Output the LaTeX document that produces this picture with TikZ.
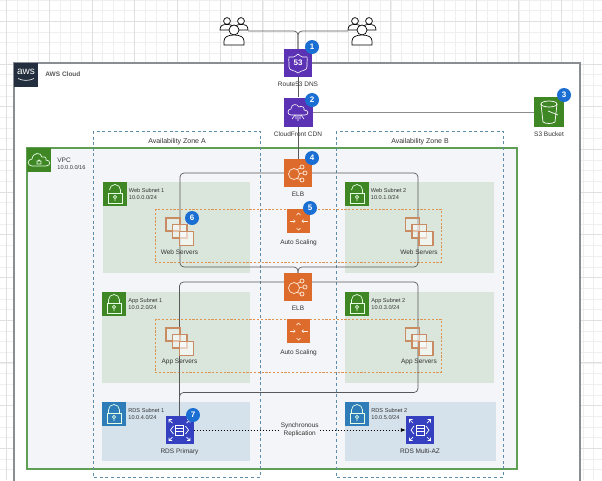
\documentclass[tikz,border=0pt]{standalone}
\usepackage{fontspec}
\setmainfont{Liberation Sans}
\usetikzlibrary{arrows.meta, positioning}

\definecolor{gridminor}{HTML}{EFEFEF}
\definecolor{gridmajor}{HTML}{E0E0E0}
\definecolor{cloudline}{HTML}{8A8D91}
\definecolor{awsnavy}{HTML}{232F3E}
\definecolor{vpcgreen}{HTML}{5E9E55}
\definecolor{vpcfill}{HTML}{F4F5F8}
\definecolor{awsgreen}{HTML}{3F8624}
\definecolor{subnetgreen}{HTML}{DAE6DB}
\definecolor{subnetblue}{HTML}{D5E2EC}
\definecolor{lockblue}{HTML}{2E7DB8}
\definecolor{zoneline}{HTML}{5F8CA8}
\definecolor{scaleline}{HTML}{E0934F}
\definecolor{awspurple}{HTML}{5B32B4}
\definecolor{awsorange}{HTML}{DD6B2C}
\definecolor{rdsblue}{HTML}{3440C0}
\definecolor{badgeblue}{HTML}{1B6FD2}
\definecolor{serverline}{HTML}{C98B62}
\definecolor{textgrey}{HTML}{333333}

\tikzset{
  iconbox/.style={fill=#1, minimum size=28pt, inner sep=0pt},
  smallbox/.style={fill=#1, minimum size=24pt, inner sep=0pt},
  caption/.style={font=\fontsize{6.5}{7.5}\selectfont, text=textgrey, inner sep=0pt, align=center},
  subtext/.style={font=\fontsize{5.6}{7}\selectfont, text=textgrey, inner sep=0pt, align=left},
  badge/.style={circle, fill=badgeblue, text=white, minimum size=14pt, inner sep=0pt, font=\fontsize{8}{8}\bfseries\selectfont},
  conn/.style={draw=#1, line width=0.7pt, rounded corners=4pt},
  conn/.default={black!65},
  zonebox/.style={draw=zoneline, line width=1pt, dash pattern=on 3pt off 2.6pt},
  scalebox/.style={draw=scaleline, line width=1pt, dash pattern=on 2.2pt off 1.6pt},
  pics/usersicon/.style={code={
    \foreach \s in {-1,1} {
      \draw[black, line width=0.7pt, fill=white] (\s*7,-10) circle (3.4);
      \draw[black, line width=0.7pt, fill=white] (\s*14,-1) .. controls (\s*14,-6) and (\s*11,-6.5) .. (\s*7,-6.5) .. controls (\s*3,-6.5) and (\s*1,-6) .. (\s*1,-1) -- cycle;
    }
    \draw[black, line width=0.7pt, fill=white] (0,-1) circle (5);
    \draw[black, line width=0.7pt, fill=white] (-10,14) -- (-10,10) .. controls (-10,6) and (-6,4) .. (0,4) .. controls (6,4) and (10,6) .. (10,10) -- (10,14) -- cycle;
  }},
  pics/shieldicon/.style={code={
    \draw[white, line width=0.6pt] (-9,-6) .. controls (-6,-5) and (-3,-6) .. (0,-9) .. controls (3,-6) and (6,-5) .. (9,-6) .. controls (10,-2) and (8,1) .. (9,4) .. controls (9,8) and (3,7) .. (0,10) .. controls (-3,7) and (-9,8) .. (-9,4) .. controls (-8,1) and (-10,-2) .. (-9,-6) -- cycle;
    \node[text=white, font=\fontsize{8}{8}\bfseries\selectfont, inner sep=0pt] (shieldText) at (0,-0.5) {53};
  }},
  pics/cloudicon/.style={code={
    \draw[white, line width=0.6pt] (-7,3) .. controls (-11,3) and (-11,-3) .. (-7,-3) .. controls (-7,-8) and (-1,-9) .. (1,-5) .. controls (4,-7) and (7,-4) .. (6,-2) .. controls (11,-2) and (11,3) .. (7,3) -- cycle;
    \draw[white, line width=0.6pt] (0,3) -- (0,9) (-3,3) -- (-6,7) (3,3) -- (6,7) (-2,3) -- (-2,7) (2,3) -- (2,7);
  }},
  pics/bucketicon/.style={code={
    \draw[white, line width=0.7pt] (-8,-8) -- (-6,10) .. controls (-3,12) and (3,12) .. (6,10) -- (8,-8);
    \draw[white, line width=0.7pt] (0,-8) ellipse (8 and 3);
    \draw[white, line width=0.7pt] (-1,-1) -- (9,3);
  }},
  pics/elbicon/.style={code={
    \draw[white!85!orange, line width=0.7pt] (-4,1) circle (5.5);
    \foreach \a/\b in {4/-6,7/0,4/7} {
      \draw[white!85!orange, line width=0.7pt] (\a,\b) circle (2);
    }
    \draw[white!85!orange, line width=0.7pt] (-1,-3.5) -- (2.5,-5) (1.5,0.5) -- (5,0) (-1,5.5) -- (2.5,6.5);
  }},
  pics/scaleicon/.style={code={
    \draw[white!85!orange, line width=0.7pt] (-2,-6) -- (0,-8) -- (2,-6) (-2,7) -- (0,9) -- (2,7);
    \draw[white!85!orange, line width=0.7pt, -{Straight Barb[length=1.5pt]}] (-9,0) -- (-3,0);
    \draw[white!85!orange, line width=0.7pt, -{Straight Barb[length=1.5pt]}] (9,0) -- (3,0);
  }},
  pics/lockicon/.style={code={
    \draw[white!90!green, line width=0.7pt] (-7,-1) rectangle (7,9);
    \draw[white!90!green, line width=0.7pt] (-5.5,-1) -- (-5.5,-4) arc[start angle=180, end angle=360, radius=5.5] -- (5.5,-1);
    \draw[white!90!green, line width=0.7pt] (0,3) circle (1.6) (0,4.6) -- (0,7);
  }},
  pics/openlockicon/.style={code={
    \draw[white!90!green, line width=0.7pt] (-7,-1) rectangle (7,9);
    \draw[white!90!green, line width=0.7pt] (-5.5,-4) arc[start angle=180, end angle=360, radius=5.5] -- (5.5,-1);
    \draw[white!90!green, line width=0.7pt] (0,3) circle (1.6) (0,4.6) -- (0,7);
  }},
  pics/vpcicon/.style={code={
    \draw[white!90!green, line width=0.7pt] (-7,6) .. controls (-12,6) and (-12,-1) .. (-7,-1) .. controls (-6,-8) and (2,-8) .. (3,-3) .. controls (7,-4) and (8,-1) .. (7,0) .. controls (12,0) and (12,6) .. (7,6) -- cycle;
    \draw[white!90!green, line width=0.6pt] (-2,1) rectangle (2,4) (-1.2,1) arc[start angle=180, end angle=360, radius=1.2];
  }},
  pics/rdsicon/.style={code={
    \draw[white, line width=0.7pt] (-4,-5) rectangle (4,5) (-4,-2) -- (4,-2) (-4,1) -- (4,1);
    \draw[white, line width=0.7pt] (-6,-4) -- (-9,0) -- (-6,4) (6,-4) -- (9,0) -- (6,4);
    \foreach \a/\b in {-1/-1,1/-1,-1/1,1/1} {
      \draw[white, line width=0.7pt] (\a*7,\b*7) -- (\a*10.5,\b*10.5) (\a*10.5,\b*7.5) -- (\a*10.5,\b*10.5) -- (\a*7.5,\b*10.5);
    }
  }},
  pics/serversicon/.style={code={
    \draw[serverline, line width=1.1pt, fill=white, fill opacity=0.25] (-13.5,-13.5) rectangle (0.5,-0.5);
    \draw[serverline, line width=1.1pt, fill=white, fill opacity=0.45] (-7,-7) rectangle (7.5,6.5);
    \draw[serverline, line width=1.1pt, fill=white, fill opacity=0.6] (0,0) rectangle (14,14);
  }}
}

\begin{document}
\begin{tikzpicture}[x=1pt, y=-1pt]
  \useasboundingbox (0,0) rectangle (602,480);
  \clip (0,0) rectangle (602,480);

  % sheet grid
  \foreach \x in {6.7,17.37,...,602} \draw[gridminor, line width=0.5pt] (\x,0) -- (\x,480);
  \foreach \y in {0,10.67,...,480} \draw[gridminor, line width=0.5pt] (0,\y) -- (602,\y);
  \foreach \x in {6.7,49.37,...,602} \draw[gridmajor, line width=0.5pt] (\x,0) -- (\x,480);
  \foreach \y in {21.33,64,...,480} \draw[gridmajor, line width=0.5pt] (0,\y) -- (602,\y);

  % containers
  \draw[cloudline, line width=1.5pt, fill=white] (14,63) rectangle (580,495);
  \draw[vpcgreen, line width=1.2pt, fill=vpcfill] (27,148) rectangle (517,469);
  \fill[subnetgreen] (103,182) rectangle (250,273);
  \fill[subnetgreen] (345,182) rectangle (494,273);
  \fill[subnetgreen] (102,292) rectangle (250,383);
  \fill[subnetgreen] (345,292) rectangle (494,383);
  \fill[subnetblue] (102,402) rectangle (250,461);
  \fill[subnetblue] (345,402) rectangle (496,461);
  \draw[zonebox] (93,131) rectangle (260,477);
  \draw[zonebox] (336,131) rectangle (503,477);
  \draw[scalebox] (155,209) rectangle (441,262);
  \draw[scalebox] (155,319) rectangle (441,372);

  % corner logos
  \node[smallbox=awsnavy] (awsLogo) at (26,75) {};
  \node[text=white, font=\fontsize{10}{10}\selectfont, inner sep=0pt] (awsMark) at (26,72) {aws};
  \draw[white, line width=0.6pt] (18,78.5) .. controls (23,81) and (29,81) .. (34,78.5);
  \node[caption, font=\fontsize{6.5}{7.5}\bfseries\selectfont, text=black!65, right=7pt of awsLogo, yshift=1pt] (cloudText) {AWS Cloud};
  \node[smallbox=awsgreen] (vpcLogo) at (39,160) {};
  \node[subtext, right=6pt of vpcLogo, yshift=-3.5pt] (vpcText) {{\fontsize{6.5}{7}\selectfont VPC}\\10.0.0.0/16};
  \node[smallbox=awsgreen] (webLogoA) at (115,194) {};
  \node[subtext, right=1.5pt of webLogoA] (webTextA) {Web Subnet 1\\10.0.0.0/24};
  \node[smallbox=awsgreen] (webLogoB) at (357,194) {};
  \node[subtext, right=1.5pt of webLogoB] (webTextB) {Web Subnet 2\\10.0.1.0/24};
  \node[smallbox=awsgreen] (appLogoA) at (114,304) {};
  \node[subtext, right=2pt of appLogoA] (appTextA) {App Subnet 1\\10.0.2.0/24};
  \node[smallbox=awsgreen] (appLogoB) at (357,304) {};
  \node[subtext, right=2pt of appLogoB] (appTextB) {App Subnet 2\\10.0.3.0/24};
  \node[smallbox=lockblue] (rdsLogoA) at (114,414) {};
  \node[subtext, right=2pt of rdsLogoA] (rdsTextA) {RDS Subnet 1\\10.0.4.0/24};
  \node[smallbox=lockblue] (rdsLogoB) at (357,414) {};
  \node[subtext, right=2pt of rdsLogoB] (rdsTextB) {RDS Subnet 2\\10.0.5.0/24};
  \pic at (vpcLogo) {vpcicon};
  \pic at (webLogoA) {openlockicon};
  \pic at (webLogoB) {openlockicon};
  \pic at (appLogoA) {lockicon};
  \pic at (appLogoB) {lockicon};
  \pic at (rdsLogoA) {lockicon};
  \pic at (rdsLogoB) {lockicon};

  \node[caption, font=\fontsize{7}{8}\selectfont] (zoneTextA) at (177,142) {Availability Zone A};
  \node[caption, font=\fontsize{7}{8}\selectfont] (zoneTextB) at (420,142) {Availability Zone B};

  % service nodes
  \node[minimum size=28pt, inner sep=0pt] (usersA) at (234,31) {};
  \node[minimum size=28pt, inner sep=0pt] (usersB) at (362,31) {};
  \node[iconbox=awspurple] (route) at (298,63) {};
  \node[iconbox=awspurple, minimum size=29pt] (cdn) at (298,112) {};
  \node[iconbox=awsgreen, minimum size=30pt] (bucket) at (549,112) {};
  \node[iconbox=awsorange] (elbA) at (298,173) {};
  \node[iconbox=awsorange, minimum size=23.5pt] (scaleA) at (298.5,221) {};
  \node[iconbox=awsorange] (elbB) at (298,287) {};
  \node[iconbox=awsorange, minimum size=23.5pt] (scaleB) at (298.5,331) {};
  \node[iconbox=rdsblue] (rdsA) at (179.5,430) {};
  \node[iconbox=rdsblue] (rdsB) at (420,430) {};
  \node[minimum size=28pt, inner sep=0pt] (webA) at (179.5,231.5) {};
  \node[minimum size=28pt, inner sep=0pt] (webB) at (419,231.5) {};
  \node[minimum size=28pt, inner sep=0pt] (appA) at (179.5,341.5) {};
  \node[minimum size=28pt, inner sep=0pt] (appB) at (419,341.5) {};

  % named bends of the loops
  \coordinate (webLoopL) at (180,267);
  \coordinate (webLoopR) at (418,267);
  \coordinate (appLoopR) at (418,392.5);

  % connectors
  \draw[conn] (usersA.east) -| (route.north);
  \draw[conn] (usersB.west) -| (route.north);
  \draw[conn] (route) -- (cdn);
  \draw[conn] (cdn) -- (elbA);
  \draw[conn=black!45] (cdn) -- (bucket);
  \draw[conn] (elbA.west) -| (webLoopL) -| (elbB.north);
  \draw[conn] (elbA.east) -| (webLoopR) -| (elbB.north);
  \draw[conn] ([yshift=5pt]elbB.west) -| (rdsA.north);
  \draw[conn] ([yshift=5pt]elbB.east) -| (appLoopR) -| (rdsA.north);
  \draw[black, line width=0.8pt, dash pattern=on 1.6pt off 1.4pt, -{Latex[length=5pt, width=4pt]}] (rdsA) -- (rdsB)
    node[midway, caption, fill=vpcfill, inner xsep=1pt, inner ysep=1pt, text=textgrey] (syncText) {Synchronous\\Replication};

  % icons on top
  \pic at (usersA) {usersicon};
  \pic at (usersB) {usersicon};
  \pic at (route) {shieldicon};
  \pic at (cdn) {cloudicon};
  \pic at (bucket) {bucketicon};
  \pic at (elbA) {elbicon};
  \pic at (elbB) {elbicon};
  \pic at (scaleA) {scaleicon};
  \pic at (scaleB) {scaleicon};
  \pic at (rdsA) {rdsicon};
  \pic at (rdsB) {rdsicon};
  \pic at (webA) {serversicon};
  \pic at (webB) {serversicon};
  \pic at (appA) {serversicon};
  \pic at (appB) {serversicon};

  % captions
  \node[caption, below=4.5pt of route] (routeText) {Route53 DNS};
  \node[caption, below=4.5pt of cdn] (cdnText) {CloudFront CDN};
  \node[caption, below=4.5pt of bucket] (bucketText) {S3 Bucket};
  \node[caption, below=4.5pt of elbA] (elbTextA) {ELB};
  \node[caption, below=6.5pt of scaleA] (scaleTextA) {Auto Scaling};
  \node[caption, below=4.5pt of elbB] (elbTextB) {ELB};
  \node[caption, below=6.5pt of scaleB] (scaleTextB) {Auto Scaling};
  \node[caption, below=4.5pt of rdsA] (rdsCapA) {RDS Primary};
  \node[caption, below=4.5pt of rdsB] (rdsCapB) {RDS Multi-AZ};
  \node[caption, below=3.5pt of webA] (webCapA) {Web Servers};
  \node[caption, below=3.5pt of webB] (webCapB) {Web Servers};
  \node[caption, below=3.5pt of appA] (appCapA) {App Servers};
  \node[caption, below=3.5pt of appB] (appCapB) {App Servers};

  % numbered badges
  \node[badge] (numOne) at (312,47) {1};
  \node[badge] (numTwo) at (312,100) {2};
  \node[badge] (numThree) at (564,95) {3};
  \node[badge] (numFour) at (312,158) {4};
  \node[badge] (numFive) at (310,208) {5};
  \node[badge] (numSix) at (192,218) {6};
  \node[badge] (numSeven) at (193,415) {7};
\end{tikzpicture}
\end{document}
